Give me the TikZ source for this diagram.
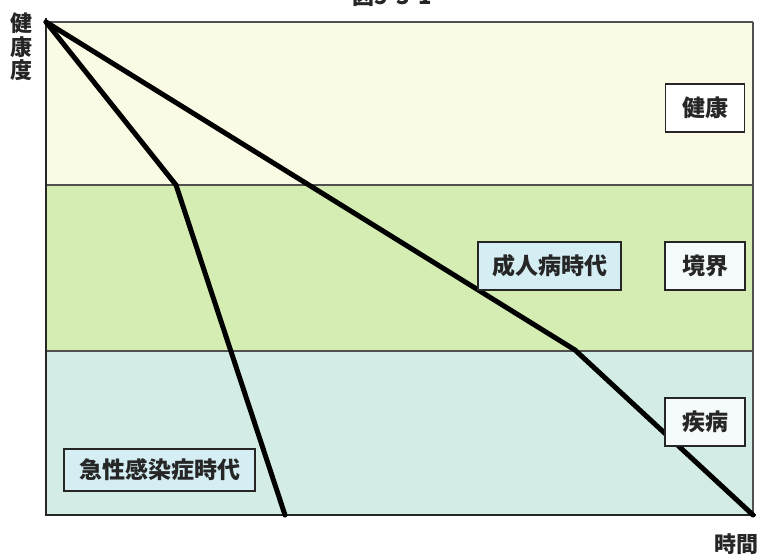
\documentclass[tikz,border=0pt]{standalone}
\usepackage{fontspec}
\newfontfamily\jp{Noto Sans CJK JP}
\definecolor{bandtop}{HTML}{FBFAE4}
\definecolor{bandmid}{HTML}{D5EDB2}
\definecolor{bandbot}{HTML}{D3EDE6}
\definecolor{boxblue}{HTML}{D4EEF4}
\definecolor{boxwhite}{HTML}{F4FBFA}
\definecolor{bordergrey}{HTML}{505050}
\tikzset{
  lbl/.style={draw=black!85, line width=1.6pt, inner sep=0pt, minimum height=48pt, font=\jp\bfseries\fontsize{23}{24}\selectfont, text=black!85},
  curve/.style={line width=5pt, black, line join=round, line cap=round},
  band/.style={draw=bordergrey, line width=1.5pt},
  axislbl/.style={font=\jp\bfseries\fontsize{22}{23.5}\selectfont, text=black!85, inner sep=0pt}
}
\begin{document}
\begin{tikzpicture}[x=1pt,y=-1pt]
\useasboundingbox (0,0) rectangle (760,555);
\fill[white] (0,0) rectangle (760,555);
% bands
\fill[bandtop] (46,22) rectangle (753,185);
\fill[bandmid] (46,185) rectangle (753,351);
\fill[bandbot] (46,351) rectangle (753,515);
\draw[band] (46,22) -- (753,22);
\draw[band] (46,185) -- (753,185);
\draw[band] (46,351) -- (753,351);
\draw[band] (753,22) -- (753,515);
% axes
\draw[line width=2pt, black!85] (46,18) -- (46,515) -- (756,515);
% title (cut off at top, as in the source)
\node[axislbl, anchor=south] (title) at (392,7) {図5-3-1};
% axis labels
\node[axislbl, align=center, anchor=north] (ylab) at (21,13) {健\\康\\度};
\node[axislbl, anchor=north west] (xlab) at (714,533) {時間};
% curves
\coordinate (O) at (46,22);
\coordinate (K1) at (176,185);
\coordinate (E1) at (285,515);
\coordinate (K2) at (575,350);
\coordinate (E2) at (753,515);
\draw[curve] (O) -- (K1) -- (E1);
\draw[curve] (O) -- (K2) -- (E2);
% labels
\node[lbl, fill=white, minimum width=79pt] (kenko) at (705,108) {健康};
\node[lbl, fill=boxwhite, minimum width=80pt] (kyokai) at (705,266) {境界};
\node[lbl, fill=boxblue, minimum width=143pt] (seijin) at (549.5,266) {成人病時代};
\node[lbl, fill=boxwhite, minimum width=80pt] (shippei) at (705,422) {疾病};
\node[lbl, fill=boxblue, minimum width=191pt, minimum height=42pt] (kyusei) at (159.5,470) {急性感染症時代};
\end{tikzpicture}
\end{document}
